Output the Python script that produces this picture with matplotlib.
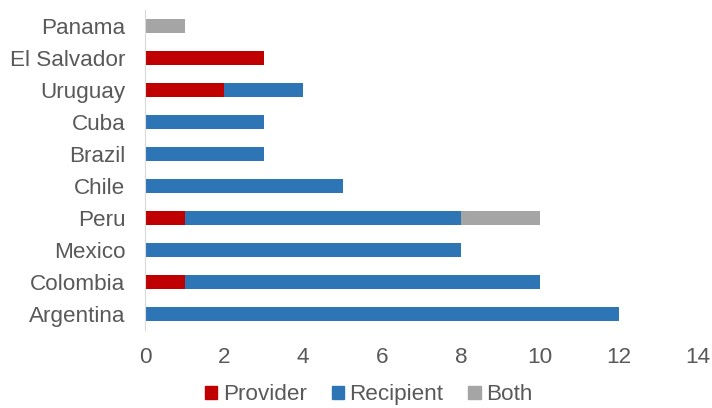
import numpy as np
import matplotlib.pyplot as plt
from matplotlib.patches import Patch

plt.rcParams['font.family'] = ['Liberation Sans', 'DejaVu Sans']

countries = ["Argentina", "Colombia", "Mexico", "Peru", "Chile",
             "Brazil", "Cuba", "Uruguay", "El Salvador", "Panama"]
provider = [0, 1, 0, 1, 0, 0, 0, 2, 3, 0]
recipient = [12, 9, 8, 7, 5, 3, 3, 2, 0, 0]
both = [0, 0, 0, 2, 0, 0, 0, 0, 0, 1]

series_names = ["Provider", "Recipient", "Both"]
colors = ["#C00000", "#2E75B6", "#A5A5A5"]
text_color = "#595959"

fig = plt.figure(figsize=(7.12, 4.08), dpi=100)
ax = fig.add_axes([0.2037, 0.191, 0.7766, 0.784])

y = np.arange(len(countries))
left = np.zeros(len(countries))
for vals, c in zip([provider, recipient, both], colors):
    ax.barh(y, vals, left=left, height=0.43, color=c)
    left += np.array(vals)

ax.set_xlim(0, 14)
ax.set_ylim(-0.5, len(countries) - 0.5)
ax.set_xticks(range(0, 15, 2))
ax.set_yticks(y)
ax.set_yticklabels(countries)

for s in ["top", "right", "bottom"]:
    ax.spines[s].set_visible(False)
ax.spines["left"].set_color("#D9D9D9")
ax.tick_params(axis="both", length=0, labelsize=16.2, labelcolor=text_color)
ax.tick_params(axis="x", pad=12)
ax.tick_params(axis="y", pad=14)

handles = [Patch(color=c, label=n) for c, n in zip(colors, series_names)]
fig.legend(handles=handles, loc="center", bbox_to_anchor=(0.518, 0.032),
           ncol=3, frameon=False, fontsize=16.2, labelcolor=text_color,
           handlelength=0.55, handleheight=0.55, handletextpad=0.25,
           columnspacing=1.1, borderpad=0.2)

fig.savefig("out.png", dpi=100)
